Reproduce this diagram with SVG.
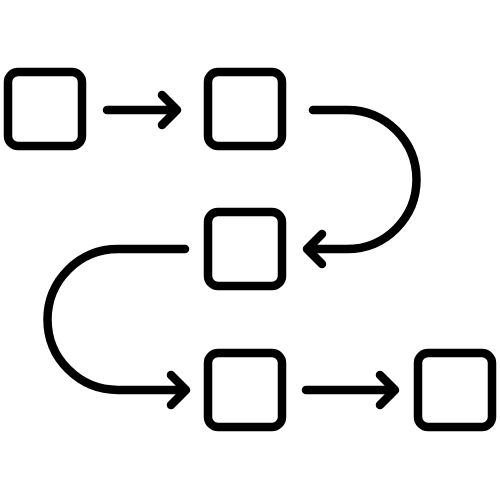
<svg xmlns="http://www.w3.org/2000/svg" width="500" height="500" viewBox="0 0 500 500">
<style>
.box{fill:#fff;stroke:#000;stroke-width:8.5}
.con{fill:none;stroke:#000;stroke-width:8.5;stroke-linecap:round;stroke-linejoin:round}
</style>
<rect width="500" height="500" fill="#fff"/>
<g id="n1"><rect class="box" x="8" y="72" width="74" height="74" rx="10"/></g>
<g id="n2"><rect class="box" x="208" y="72" width="74" height="74" rx="10"/></g>
<g id="n3"><rect class="box" x="208" y="212" width="74" height="74" rx="10"/></g>
<g id="n4"><rect class="box" x="208" y="353" width="74" height="74" rx="10"/></g>
<g id="n5"><rect class="box" x="418" y="353" width="74" height="74" rx="10"/></g>
<g id="connectors">
<path class="con" d="M107,110 H176 M162,95 L177,110 L162,125"/>
<path class="con" d="M313,110 H347 A69.5,69.5 0 0 1 347,249 H308 M322,234 L307,249 L322,264"/>
<path class="con" d="M185,249 H118 A70.5,70.5 0 0 0 118,390 H186 M171,375 L186,390 L171,405"/>
<path class="con" d="M306,390 H394 M380,375 L395,390 L380,405"/>
</g>
</svg>
